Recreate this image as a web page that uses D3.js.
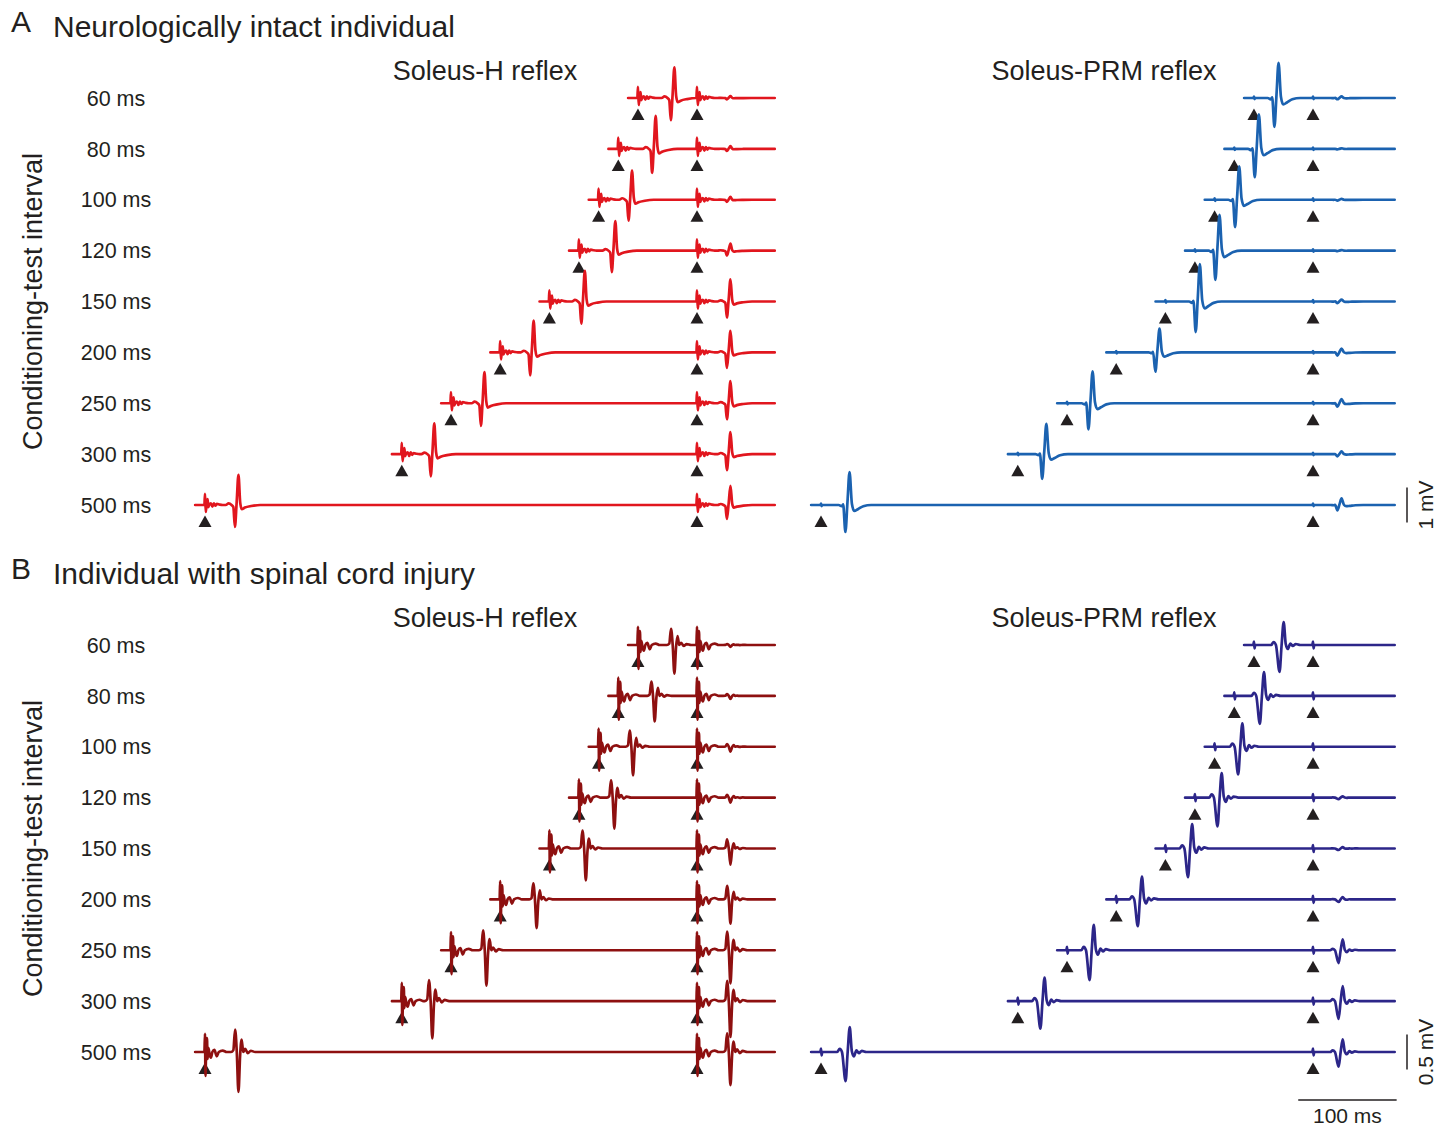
<!DOCTYPE html>
<meta charset="utf-8">
<style>
body { margin: 0; background: #fff; }
text { font-family: "Liberation Sans", Arial, sans-serif; fill: #231f20; }
.trace { fill: none; stroke-width: 2.7px; stroke-linejoin: round; stroke-linecap: round; }
.bar { stroke: #231f20; stroke-width: 1.5px; }
</style>
<body>
<script src="https://d3js.org/d3.v7.min.js"></script>
<script>

// conditioning-test intervals (ms), one trace per interval
var intervals = [60, 80, 100, 120, 150, 200, 250, 300, 500];

// peak-to-peak amplitude (mV) of conditioning and test responses, and
// latency (ms) of the main peak of the conditioning response

// A - neurologically intact, Soleus-H
var hIntactCond    = [1.51, 1.63, 1.43, 1.46, 1.51, 1.57, 1.54, 1.51, 1.49];
var hIntactCondLat = [37, 38, 34, 37, 36, 34, 34, 33, 34];
var hIntactTest    = [0.09, 0.14, 0.14, 0.34, 1.09, 1.06, 1.09, 1.09, 0.94];
var hIntactTestLat = 34;

// A - neurologically intact, Soleus-PRM
var prmIntactCond    = [1.83, 1.8, 1.74, 1.86, 1.94, 1.23, 1.66, 1.57, 1.71];
var prmIntactCondLat = [25, 25, 25, 25, 35, 44, 26, 29, 29];
var prmIntactTest    = [0.08, 0.03, 0.05, 0.03, 0.1, 0.2, 0.22, 0.14, 0.34];
var prmIntactTestLat = 29;

// B - spinal cord injury, Soleus-H
var hSciCond    = [0.64, 0.57, 0.64, 0.69, 0.71, 0.64, 0.79, 0.83, 0.89];
var hSciCondLat = [37, 37, 35, 36, 37, 37, 36, 31, 34];
var hSciTest    = [0.04, 0.07, 0.11, 0.11, 0.36, 0.54, 0.74, 0.8, 0.74];
var hSciTestLat = 34;

// B - spinal cord injury, Soleus-PRM
var prmSciCond    = [0.71, 0.74, 0.73, 0.76, 0.76, 0.71, 0.79, 0.73, 0.77];
var prmSciCondLat = [26, 26, 24, 23, 23, 22, 23, 23, 25];
var prmSciTest    = [0, 0, 0, 0.04, 0.04, 0.07, 0.34, 0.47, 0.39];
var prmSciTestLat = 26;

// response shapes: [ms from main peak, fraction of peak-to-peak]
var hIntactShape = [[-13,0],[-10,0.03],[-7,0],[-5.2,-0.04],[-3.6,-0.42],[-1.8,0.06],[0,0.58],[1.8,0.04],[3.4,-0.08],[6.5,-0.05],[13,-0.02],[22,0]];
var prmIntactShape = [[-11,0],[-8,-0.02],[-6.5,0.01],[-4.2,-0.45],[-2.1,0.05],[0,0.55],[2.4,0.02],[4.8,-0.1],[8.5,-0.07],[14,-0.02],[22,0]];
var hSciShape = [[-7.5,0],[-5.2,0.03],[-3.4,0.36],[-1.7,0],[0,-0.64],[1.7,-0.05],[3.2,0.2],[4.9,0],[6.8,0.05],[9.5,-0.02],[12.5,0.02],[17,0]];
var prmSciShape = [[-8.5,0],[-6,0.06],[-3.7,0],[0,-0.54],[2.1,0],[4.2,0.46],[6.3,0.02],[8.4,-0.08],[11,0.03],[13.5,-0.02],[16.5,0.02],[21,0]];

// stimulus artefacts: [ms from stimulus, mV]
var hIntactArtifact = [[-0.6,0],[0,0.32],[0.8,-0.2],[1.6,0.02],[2.6,0.17],[3.4,-0.06],[4.4,0.02],[6,0.05],[7.5,-0.05],[9,0.05],[10.5,-0.02],[12,0.03],[15,0.01],[18,0]];
var prmIntactArtifact = [[-0.6,0],[0,0.04],[0.6,-0.03],[1.2,0]];
var hSciArtifact = [[-0.6,0],[0,0.26],[0.5,-0.34],[1.1,0.02],[2,0.2],[2.6,-0.1],[3.4,0.06],[4.6,-0.03],[6,-0.08],[7.5,0],[9.5,0.03],[12,-0.06],[14,0],[18,0.02],[22,0]];
var prmSciArtifact = [[-0.6,0],[0,0.05],[0.6,-0.05],[1.2,0]];

var width = 1447, height = 1126;
var svg = d3.select("body").append("svg")
    .attr("width", width)
    .attr("height", height);

// time scales: ms relative to the test stimulus
var xH = d3.scaleLinear().domain([-500, 0]).range([205, 697]);
var xP = d3.scaleLinear().domain([-500, 0]).range([821, 1313]);

var rowA = d3.scalePoint().domain(intervals).range([98, 505]);
var rowB = d3.scalePoint().domain(intervals).range([645, 1052]);

// mV -> vertical offset
var mvA = d3.scaleLinear().domain([0, 1]).range([0, -35]);
var mvB = d3.scaleLinear().domain([0, 1]).range([0, -70]);

var panels = [
  {x: xH, end: 79, row: rowA, mv: mvA, color: "#e1161e", cond: hIntactCond, lat: hIntactCondLat, test: hIntactTest, testLat: hIntactTestLat, shape: hIntactShape, art: hIntactArtifact},
  {x: xP, end: 83, row: rowA, mv: mvA, color: "#1b62b0", cond: prmIntactCond, lat: prmIntactCondLat, test: prmIntactTest, testLat: prmIntactTestLat, shape: prmIntactShape, art: prmIntactArtifact},
  {x: xH, end: 79, row: rowB, mv: mvB, color: "#8e1010", cond: hSciCond, lat: hSciCondLat, test: hSciTest, testLat: hSciTestLat, shape: hSciShape, art: hSciArtifact},
  {x: xP, end: 83, row: rowB, mv: mvB, color: "#2c2689", cond: prmSciCond, lat: prmSciCondLat, test: prmSciTest, testLat: prmSciTestLat, shape: prmSciShape, art: prmSciArtifact}
];

function piecewise(knots) {
  return d3.scaleLinear()
      .domain(knots.map(function(d) { return d[0]; }))
      .range(knots.map(function(d) { return d[1]; }))
      .clamp(true);
}

function buildTrace(p, i) {
  var iv = intervals[i];
  var start = -iv - 10, end = p.end;
  var shapeF = piecewise(p.shape), artF = piecewise(p.art);
  var events = [
    {at: -iv, amp: p.cond[i], lat: p.lat[i]},
    {at: 0, amp: p.test[i], lat: p.testLat}
  ];
  var times = [start, end];
  events.forEach(function(e) {
    p.art.forEach(function(k) { times.push(e.at + k[0]); });
    p.shape.forEach(function(k) { times.push(e.at + e.lat + k[0]); });
  });
  times = Array.from(new Set(times))
      .filter(function(t) { return t >= start && t <= end; })
      .sort(d3.ascending);
  return times.map(function(t) {
    var v = d3.sum(events, function(e) {
      return artF(t - e.at) + e.amp * shapeF(t - e.at - e.lat);
    });
    return [t, v];
  });
}

panels.forEach(function(p) {
  var g = svg.append("g");
  intervals.forEach(function(iv, i) {
    var base = p.row(iv);
    // stimulus markers
    [-iv, 0].forEach(function(t) {
      var cx = p.x(t);
      g.append("path")
          .attr("d", "M" + (cx - 6.5) + "," + (base + 22) + "L" + cx + "," + (base + 10.5) + "L" + (cx + 6.5) + "," + (base + 22) + "Z")
          .attr("fill", "#231f20");
    });
    var line = d3.line()
        .x(function(d) { return p.x(d[0]); })
        .y(function(d) { return base + p.mv(d[1]); })
        .curve(d3.curveMonotoneX);
    g.append("path")
        .datum(buildTrace(p, i))
        .attr("class", "trace")
        .attr("stroke", p.color)
        .attr("d", line);
  });
});

// row labels
[rowA, rowB].forEach(function(row) {
  svg.append("g").selectAll("text")
      .data(intervals)
    .enter().append("text")
      .attr("x", 116)
      .attr("y", function(d) { return row(d); })
      .attr("dy", "0.36em")
      .attr("text-anchor", "middle")
      .style("font-size", "21.5px")
      .text(function(d) { return d + " ms"; });
});

// panel titles
function title(letter, txt, y) {
  svg.append("text").attr("x", 11).attr("y", y).style("font-size", "30px").text(letter);
  svg.append("text").attr("x", 53).attr("y", y + 5).style("font-size", "30px").text(txt);
}
title("A", "Neurologically intact individual", 32);
title("B", "Individual with spinal cord injury", 579);

[[rowA, 80], [rowB, 627]].forEach(function(d) {
  svg.append("text").attr("x", 485).attr("y", d[1]).attr("text-anchor", "middle")
      .style("font-size", "27px").text("Soleus-H reflex");
  svg.append("text").attr("x", 1104).attr("y", d[1]).attr("text-anchor", "middle")
      .style("font-size", "27px").text("Soleus-PRM reflex");
  var mid = (d[0](60) + d[0](500)) / 2;
  svg.append("text")
      .attr("transform", "translate(42," + mid + ") rotate(-90)")
      .attr("text-anchor", "middle")
      .style("font-size", "27px")
      .text("Conditioning-test interval");
});

// amplitude scale bars
var sbA = rowA(500), sbB = rowB(500);
svg.append("line").attr("class", "bar")
    .attr("x1", 1407).attr("x2", 1407)
    .attr("y1", sbA + mvA(0.5)).attr("y2", sbA + mvA(-0.5));
svg.append("text")
    .attr("transform", "translate(1433," + sbA + ") rotate(-90)")
    .attr("text-anchor", "middle").style("font-size", "21px").text("1 mV");
svg.append("line").attr("class", "bar")
    .attr("x1", 1407).attr("x2", 1407)
    .attr("y1", sbB + mvB(0.25)).attr("y2", sbB + mvB(-0.25));
svg.append("text")
    .attr("transform", "translate(1433," + sbB + ") rotate(-90)")
    .attr("text-anchor", "middle").style("font-size", "21px").text("0.5 mV");

// time scale bar
svg.append("line").attr("class", "bar")
    .attr("x1", xP(-15)).attr("x2", xP(85))
    .attr("y1", 1100).attr("y2", 1100);
svg.append("text")
    .attr("x", xP(35)).attr("y", 1123)
    .attr("text-anchor", "middle").style("font-size", "21px").text("100 ms");

</script>
</body>
